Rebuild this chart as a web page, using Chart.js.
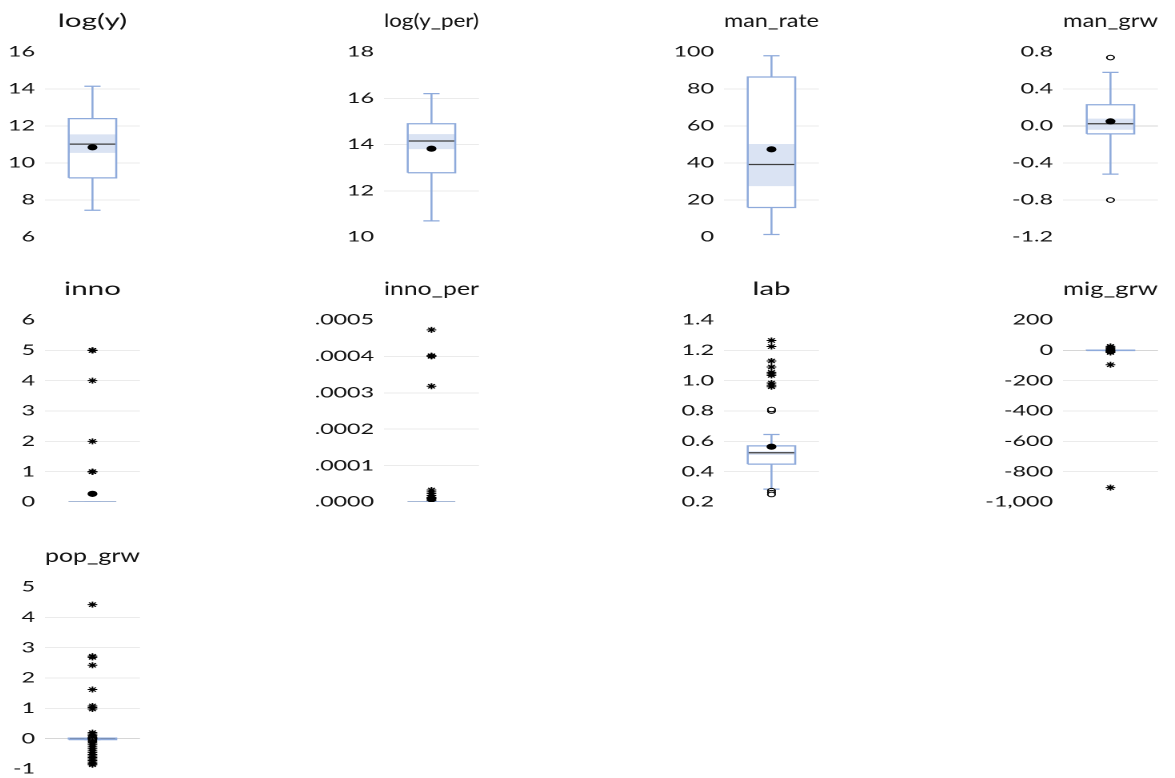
<!DOCTYPE html>
<html>
<head>
<meta charset="utf-8">
<script src="https://cdn.jsdelivr.net/npm/chart.js@4.4.1/dist/chart.umd.min.js"></script>
<style>
  html, body { margin: 0; padding: 0; background: #fff; overflow: hidden; }
  body { width: 1175px; height: 778px; position: relative; }
  .panel { position: absolute; }
  .panel canvas { transform: scaleX(1.6); transform-origin: 0 0; }
</style>
</head>
<body>
<script>
// one entry per panel
const titles = ['log(y)', 'log(y_per)', 'man_rate', 'man_grw', 'inno', 'inno_per', 'lab', 'mig_grw', 'pop_grw'];
const axisMin  = [6, 10, 0, -1.2, 0, 0, 0.2, -1000, -1];
const axisMax  = [16, 18, 100, 0.8, 6, 0.0005, 1.4, 200, 5];
const axisStep = [2, 2, 20, 0.4, 1, 0.0001, 0.2, 200, 1];

const lowWhisker  = [7.45, 10.7, 1.4, -0.52, 0, 0, 0.285, -1, -0.03];
const q1          = [9.2, 12.78, 16, -0.085, 0, 0, 0.45, -1, -0.03];
const ciLow       = [10.55, 13.8, 27.5, -0.04, 0, 0, 0.51, -0.5, -0.01];
const median      = [11.02, 14.15, 39.2, 0.025, 0, 0, 0.525, 0, 0];
const ciHigh      = [11.55, 14.45, 50.3, 0.08, 0, 0, 0.535, 0.5, 0.01];
const q3          = [12.4, 14.9, 86.5, 0.23, 0, 0, 0.57, 1.5, 0.02];
const highWhisker = [14.15, 16.2, 98, 0.58, 0, 0, 0.645, 1.5, 0.02];
const means       = [10.85, 13.82, 47.4, 0.05, 0.27, 0.00001, 0.565, -3, 0];

// near outliers (open circles) and far outliers (stars)
const nearOutliers = [[], [], [], [0.74, -0.8], [], [], [0.8, 0.81, 0.275, 0.262, 0.25], [8, -6], [0.06, -0.05, -0.1]];
const farOutliers = [
  [], [], [], [],
  [5, 5, 5, 4, 2, 1, 1, 1],
  [0.000473, 0.0004, 0.000401, 0.000402, 0.000318, 0.000033, 0.000028, 0.000023, 0.000018, 0.000013, 0.000008, 0.000004],
  [1.265, 1.225, 1.13, 1.09, 1.055, 1.045, 1.035, 0.985, 0.97, 0.96],
  [26, 18, 11, 4, -9, -14, -95, -905],
  [4.42, 2.72, 2.68, 2.42, 1.62, 1.08, 1.03, 0.98, 0.2, 0.15, 0.1, 0.05, -0.08, -0.14, -0.2, -0.27, -0.33,
   -0.4, -0.46, -0.52, -0.57, -0.62, -0.67, -0.72, -0.77, -0.82, -0.86]
];

const clean = v => (Math.abs(v) < 1e-12 ? 0 : v);
const tickFormat = [
  v => clean(v).toFixed(0), v => clean(v).toFixed(0), v => clean(v).toFixed(0), v => clean(v).toFixed(1),
  v => clean(v).toFixed(0), v => clean(v).toFixed(4).replace(/^0/, ''), v => clean(v).toFixed(1),
  v => clean(v).toLocaleString('en-US'), v => clean(v).toFixed(0)
];

// layout (screen px)
const colCenter = [92, 431, 771, 1110];
const rowTop = [0, 268, 535];
const rowPlotH = [186, 183, 183];
const SX = 1.6;            // the picture is stretched sideways
const AXIS_W = 50;         // canvas px, before stretch
const PLOT_W = 95 / SX;
const CANVAS_W = 115;
const PAD_R = CANVAS_W - AXIS_W - PLOT_W;
const TITLE_H = 52;
const TITLE_SIZE = 18.5;

const BLUE = '#8eaadb';
const BAND = '#dae3f3';
const BL = 0.25, BR = 0.75, CL = 0.415, CR = 0.585, MID = 0.5;

Chart.defaults.font.family = "Lato, 'Open Sans', sans-serif";
Chart.defaults.font.size = 14.5;
Chart.defaults.color = '#111';

function lineSet(data, extra) {
  return Object.assign({ data: data, pointRadius: 0, borderWidth: 1.25, fill: false, spanGaps: false }, extra);
}

titles.forEach((title, i) => {
  const col = i % 4, row = Math.floor(i / 4);
  const wrap = document.createElement('div');
  wrap.className = 'panel';
  wrap.style.left = (colCenter[col] - 47.5 - AXIS_W * SX) + 'px';
  wrap.style.top = rowTop[row] + 'px';
  const canvas = document.createElement('canvas');
  canvas.width = CANVAS_W;
  canvas.height = TITLE_H + rowPlotH[row] + 14;
  wrap.appendChild(canvas);
  document.body.appendChild(wrap);

  const seg = y => [{ x: BL, y: y }, { x: BR, y: y }];
  const lw = lowWhisker[i], hw = highWhisker[i];

  const datasets = [
    lineSet(seg(q3[i]), { fill: { value: q1[i] }, backgroundColor: '#ffffff', borderColor: 'rgba(0,0,0,0)', borderWidth: 0, order: 9 }),
    lineSet(seg(ciHigh[i]), { fill: { value: ciLow[i] }, backgroundColor: BAND, borderColor: 'rgba(0,0,0,0)', borderWidth: 0, order: 8 }),
    lineSet(seg(median[i]), { borderColor: '#3f3f3f', order: 7 }),
    lineSet([{ x: BL, y: q1[i] }, { x: BL, y: q3[i] }, { x: BR, y: q3[i] }, { x: BR, y: q1[i] }, { x: BL, y: q1[i] }],
      { borderColor: BLUE, order: 6 }),
    lineSet([{ x: MID, y: q3[i] }, { x: MID, y: hw }, { x: CL, y: hw }, { x: CR, y: hw }, { x: MID, y: null },
             { x: MID, y: q1[i] }, { x: MID, y: lw }, { x: CL, y: lw }, { x: CR, y: lw }],
      { borderColor: BLUE, order: 5 }),
    {
      data: [{ x: MID, y: means[i] }], showLine: false, order: 3,
      pointStyle: 'circle', pointRadius: 2.6, pointBackgroundColor: '#000', pointBorderColor: '#000', pointBorderWidth: 1
    },
    {
      data: nearOutliers[i].map(v => ({ x: MID, y: v })), showLine: false, order: 2,
      pointStyle: 'circle', pointRadius: 2.3, pointBackgroundColor: '#fff', pointBorderColor: '#000', pointBorderWidth: 1
    },
    {
      data: farOutliers[i].map(v => ({ x: MID, y: v })), showLine: false, order: 1,
      pointStyle: 'star', pointRadius: 3, pointBorderColor: '#000', pointBorderWidth: 1
    }
  ];

  new Chart(canvas, {
    type: 'line',
    data: { datasets: datasets },
    options: {
      responsive: false,
      animation: false,
      devicePixelRatio: 2,
      events: [],
      layout: { padding: { left: 0, right: PAD_R, top: 0, bottom: 14 } },
      plugins: {
        legend: { display: false },
        tooltip: { enabled: false },
        title: {
          display: true, text: title, fullSize: false, color: '#111',
          font: { size: TITLE_SIZE, weight: 'normal' },
          padding: { top: 10, bottom: TITLE_H - 10 - TITLE_SIZE * 1.2 }
        }
      },
      scales: {
        x: { type: 'linear', min: 0, max: 1, display: false },
        y: {
          min: axisMin[i], max: axisMax[i],
          ticks: { stepSize: axisStep[i], padding: 10 / SX, callback: v => tickFormat[i](v) },
          grid: {
            drawTicks: false, lineWidth: 1,
            color: ctx => {
              const n = ctx.scale.ticks.length;
              if (ctx.index === 0 || ctx.index === n - 1) return 'rgba(0,0,0,0)';
              return Math.abs(ctx.tick.value) < 1e-9 ? '#d6d6d6' : '#ebebeb';
            }
          },
          border: { display: false },
          afterFit: s => { s.width = AXIS_W; }
        }
      }
    }
  });
});
</script>
</body>
</html>
